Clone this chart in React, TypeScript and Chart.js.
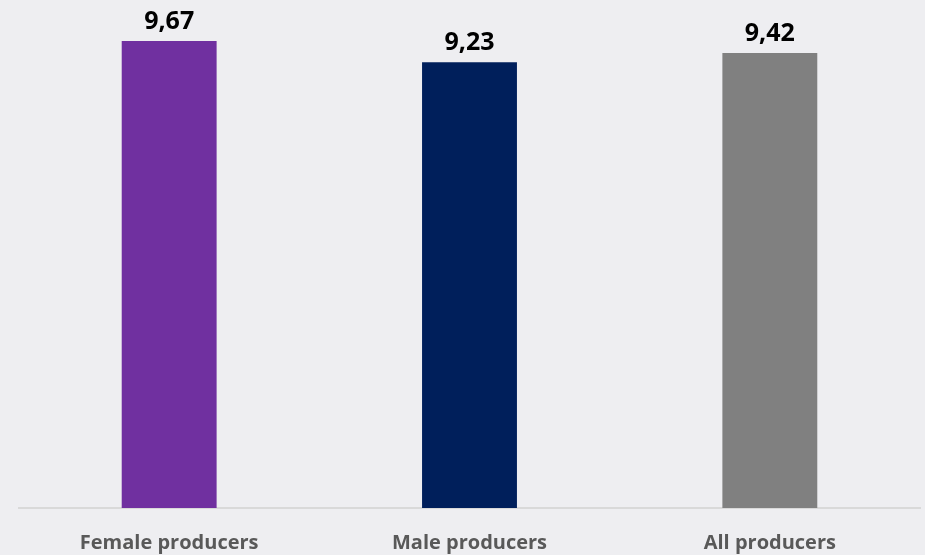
import React, { useEffect, useRef } from "react";
import { Chart, registerables } from "chart.js";

Chart.register(...registerables);

const categories = ["Female producers", "Male producers", "All producers"];
const values = [9.67, 9.23, 9.42];
const valueLabels = ["9,67", "9,23", "9,42"];
const barColors = ["#7030A0", "#001F5B", "#808080"];

const BG = "#EEEEF1";

const valueLabelPlugin = {
  id: "valueLabels",
  afterDatasetsDraw(chart: any) {
    const ctx = chart.ctx;
    const meta = chart.getDatasetMeta(0);
    ctx.save();
    ctx.font = "bold 25px 'Open Sans'";
    ctx.fillStyle = "#000000";
    ctx.textAlign = "center";
    ctx.textBaseline = "alphabetic";
    meta.data.forEach((bar: any, i: number) => {
      ctx.fillText(valueLabels[i], bar.x, bar.y - 12);
    });
    ctx.restore();
  },
};

const bgPlugin = {
  id: "bg",
  beforeDraw(chart: any) {
    const ctx = chart.ctx;
    ctx.save();
    ctx.fillStyle = BG;
    ctx.fillRect(0, 0, chart.width, chart.height);
    ctx.restore();
  },
};

export default function App() {
  const ref = useRef<HTMLCanvasElement>(null);
  useEffect(() => {
    document.body.style.margin = "0";
    document.body.style.background = BG;
    const chart = new Chart(ref.current!, {
      type: "bar",
      data: {
        labels: categories,
        datasets: [
          {
            data: values,
            backgroundColor: barColors,
            categoryPercentage: 1,
            barPercentage: 0.316,
          },
        ],
      },
      options: {
        animation: false,
        responsive: false,
        layout: { padding: { left: 19, right: 5, top: 25, bottom: 0 } },
        plugins: { legend: { display: false }, tooltip: { enabled: false } },
        scales: {
          y: { display: false, min: 0, max: 10 },
          x: {
            grid: { display: false },
            border: { display: true, color: "#D9D9D9", width: 2 },
            ticks: {
              color: "#595959",
              font: { family: "'Open Sans'", weight: "bold", size: 20 },
              padding: 15,
              maxRotation: 0,
              autoSkip: false,
            },
            afterFit: (scale: any) => {
              scale.height = 47;
            },
          },
        },
      },
      plugins: [bgPlugin, valueLabelPlugin],
    });
    return () => chart.destroy();
  }, []);
  return <canvas ref={ref} width={925} height={555} style={{ display: "block" }} />;
}
